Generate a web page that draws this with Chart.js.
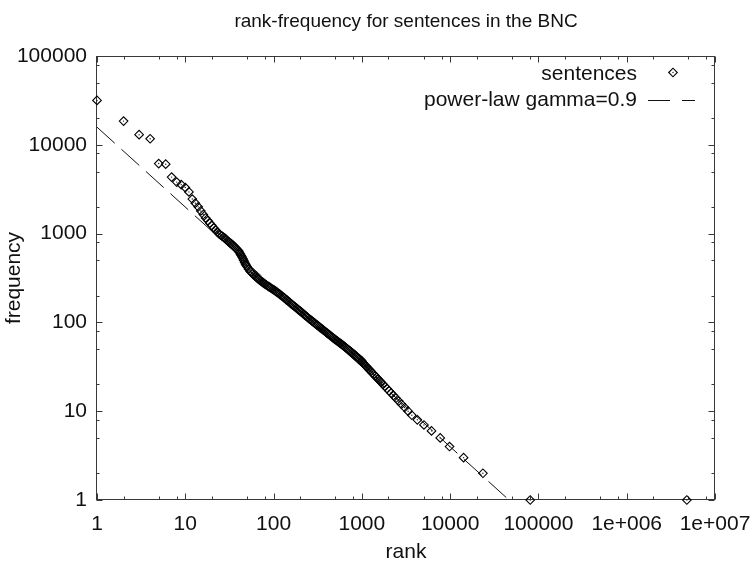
<!DOCTYPE html>
<html>
<head>
<meta charset="utf-8">
<title>rank-frequency for sentences in the BNC</title>
<script src="https://cdn.jsdelivr.net/npm/chart.js@4.4.0/dist/chart.umd.min.js"></script>
<style>
	html, body { margin: 0; padding: 0; background: #fff; }
</style>
</head>
<body>
<canvas id="rankChart" width="753" height="567"></canvas>
<script>
// rank of each sentence type and how often it occurs
// (top ranks one by one, then one point per low frequency value)
var ranks = [
	1, 2, 3, 4, 5, 6, 7, 8, 9, 10, 11, 12, 13, 14, 15, 16, 17, 18, 19, 20,
	21, 22, 23, 24, 25, 26, 27, 28, 29, 30, 31, 32, 33, 34, 35, 36, 37, 38, 39, 40,
	41, 42, 43, 44, 45, 46, 47, 48, 49, 50, 52, 54, 56, 58, 60, 62, 64, 66, 68, 70,
	72, 74, 76, 78, 80, 83, 86, 89, 92, 95, 98, 101, 104, 107, 110, 114, 118, 122, 126, 130,
	134, 138, 142, 146, 151, 156, 161, 166, 171, 176, 182, 188, 194, 200, 206, 212, 219, 226, 233, 240,
	247, 255, 263, 271, 279, 288, 297, 306, 315, 325, 335, 345, 356, 367, 378, 390, 402, 414, 427, 440,
	454, 468, 482, 497, 512, 528, 544, 561, 578, 596, 614, 633, 652, 672, 693, 714, 736, 759, 782, 806,
	831, 856, 882, 909, 937, 966, 995,
	1002, 1029, 1057, 1087, 1119, 1153, 1189, 1228, 1269, 1313, 1360, 1411, 1467, 1527, 1592, 1663, 1741, 1827, 1922, 2028,
	2147, 2282, 2434, 2610, 2814, 3054, 3340, 3680, 4250, 5050, 6150, 7720, 9840, 14200, 23500, 80700, 4800000
];
var freqs = [
	31600, 18500, 13000, 11700, 6150, 6050, 4330, 3800, 3560, 3300, 2950, 2450, 2200, 2000, 1800, 1640, 1500, 1400, 1310, 1230,
	1160, 1100, 1045, 1000, 965, 940, 915, 890, 860, 830, 809, 789, 770, 752, 735, 714, 694, 675, 657, 640,
	615, 590, 567, 545, 520, 498, 475, 455, 440, 425, 400, 380, 365, 352, 340, 331, 322, 313, 305, 298,
	292, 286, 280, 275, 270, 263, 257, 251, 246, 241, 236, 232, 227, 222, 218, 212, 207, 201, 196, 191,
	187, 182, 178, 174, 169, 164, 160, 156, 152, 149, 145, 141, 137, 134, 131, 128, 124, 121, 118, 115,
	112, 109, 107, 104, 102, 99, 97, 94.5, 92.4, 90.1, 88, 86, 83.9, 81.9, 80, 78, 76.2, 74.4, 72.6, 70.9,
	69.1, 67.5, 65.9, 64.3, 62.9, 61.5, 60.2, 58.8, 57.6, 56.3, 55, 53.7, 52.4, 51.1, 49.9, 48.7, 47.6, 46.4, 45.3, 44.2,
	43, 41.9, 40.8, 39.7, 38.8, 37.9, 37,
	36, 35, 34, 33, 32, 31, 30, 29, 28, 27, 26, 25, 24, 23, 22, 21, 20, 19, 18, 17,
	16, 15, 14, 13, 12, 11, 10, 9, 8, 7, 6, 5, 4, 3, 2, 1, 1
];

// power law with gamma = 0.9, a straight line between its end points
var lawRanks = [1, 46400];
var lawFreqs = [15800, 1];

var xTicks = [1, 10, 100, 1000, 10000, 100000, 1000000, 10000000];
var xTickLabels = ["1", "10", "100", "1000", "10000", "100000", "1e+006", "1e+007"];
var yTicks = [1, 10, 100, 1000, 10000, 100000];
var yTickLabels = ["1", "10", "100", "1000", "10000", "100000"];
// minor tick multiples inside each decade
var minorSteps = [2, 5, 8];

var points = ranks.map(function (r, i) { return { x: r, y: freqs[i] }; });
var law = lawRanks.map(function (r, i) { return { x: r, y: lawFreqs[i] }; });

var FONT = "'Liberation Sans', Arial, Helvetica, sans-serif";
var INK = "#111";
var AXIS = "#383838";

Chart.defaults.font.family = FONT;
Chart.defaults.font.size = 21;
Chart.defaults.color = INK;

// box round the plot with inward ticks on all four sides
var frameTicks = {
	id: "frameTicks",
	beforeDatasetsDraw: function (chart) {
		var ctx = chart.ctx, a = chart.chartArea;
		var sx = chart.scales.x, sy = chart.scales.y;
		var L = Math.round(a.left) - 0.5, R = Math.round(a.right) - 0.5;
		var T = Math.round(a.top) + 0.5, B = Math.round(a.bottom) - 0.5;
		ctx.save();
		ctx.strokeStyle = AXIS;
		ctx.lineWidth = 1;
		ctx.strokeRect(L, T, R - L, B - T);
		ctx.beginPath();
		function xMark(v, len) {
			var px = Math.round(sx.getPixelForValue(v)) + 0.5;
			ctx.moveTo(px, B); ctx.lineTo(px, B - len);
			ctx.moveTo(px, T); ctx.lineTo(px, T + len);
		}
		function yMark(v, len) {
			var py = Math.round(sy.getPixelForValue(v)) + 0.5;
			ctx.moveTo(L, py); ctx.lineTo(L + len, py);
			ctx.moveTo(R, py); ctx.lineTo(R - len, py);
		}
		xTicks.forEach(function (v, i) {
			xMark(v, 6);
			if (i < xTicks.length - 1) minorSteps.forEach(function (m) { xMark(v * m, 3); });
		});
		yTicks.forEach(function (v, i) {
			yMark(v, 6);
			if (i < yTicks.length - 1) minorSteps.forEach(function (m) { yMark(v * m, 3); });
		});
		ctx.stroke();
		ctx.restore();
	}
};

// title over the plot area and the key in its top right corner
var titleKey = {
	id: "titleKey",
	afterDraw: function (chart) {
		var ctx = chart.ctx, a = chart.chartArea;
		ctx.save();
		ctx.fillStyle = INK;
		ctx.textBaseline = "middle";
		ctx.font = "19px " + FONT;
		ctx.textAlign = "center";
		ctx.fillText("rank-frequency for sentences in the BNC", (a.left + a.right) / 2, 22);

		ctx.font = "21px " + FONT;
		ctx.textAlign = "right";
		ctx.fillText(chart.data.datasets[0].label, 637, 74);
		ctx.fillText(chart.data.datasets[2].label, 637, 100);

		ctx.strokeStyle = "#000";
		ctx.lineWidth = 1.1;
		ctx.beginPath();
		ctx.moveTo(673 - 4.3, 72.5);
		ctx.lineTo(673, 72.5 - 4.3);
		ctx.lineTo(673 + 4.3, 72.5);
		ctx.lineTo(673, 72.5 + 4.3);
		ctx.closePath();
		ctx.stroke();
		ctx.beginPath();
		ctx.arc(673, 72.5, 0.7, 0, Math.PI * 2);
		ctx.fillStyle = "#222";
		ctx.fill();

		ctx.strokeStyle = INK;
		ctx.lineWidth = 1;
		ctx.setLineDash([22, 12]);
		ctx.beginPath();
		ctx.moveTo(648, 100.5);
		ctx.lineTo(695, 100.5);
		ctx.stroke();
		ctx.restore();
	}
};

var ctx = document.getElementById("rankChart").getContext("2d");
var rankChart = new Chart(ctx, {
	type: "scatter",
	data: {
		datasets: [
			{
				label: "sentences",
				data: points,
				pointStyle: "rectRot",
				pointRadius: 4.3,
				pointBorderWidth: 1.1,
				pointBorderColor: "#000",
				pointBackgroundColor: "rgba(0,0,0,0)",
				clip: false
			},
			{
				// small dot in the middle of each marker
				label: "centres",
				data: points,
				pointStyle: "circle",
				pointRadius: 0.7,
				pointBorderWidth: 0,
				pointBackgroundColor: "#222",
				clip: false
			},
			{
				label: "power-law gamma=0.9",
				data: law,
				showLine: true,
				pointRadius: 0,
				borderColor: INK,
				borderWidth: 1,
				borderDash: [24, 9],
				fill: false
			}
		]
	},
	options: {
		responsive: false,
		animation: false,
		events: [],
		layout: { padding: { top: 56, right: 38, bottom: 0, left: 0 } },
		plugins: {
			legend: { display: false },
			title: { display: false },
			tooltip: { enabled: false }
		},
		scales: {
			x: {
				type: "logarithmic",
				min: 1,
				max: 10000000,
				grid: { display: false, drawTicks: false },
				border: { display: false },
				afterBuildTicks: function (scale) {
					scale.ticks = xTicks.map(function (v) { return { value: v, major: true }; });
				},
				afterFit: function (scale) {
					scale.height = 67;
					scale.paddingLeft = 0;
					scale.paddingRight = 0;
				},
				ticks: {
					autoSkip: false,
					maxRotation: 0,
					padding: 12,
					callback: function (value, index) { return xTickLabels[index]; }
				},
				title: { display: true, text: "rank", padding: { top: 0, bottom: 2 } }
			},
			y: {
				type: "logarithmic",
				min: 1,
				max: 100000,
				grid: { display: false, drawTicks: false },
				border: { display: false },
				afterBuildTicks: function (scale) {
					scale.ticks = yTicks.map(function (v) { return { value: v, major: true }; });
				},
				afterFit: function (scale) {
					scale.width = 97;
					scale.paddingTop = 0;
					scale.paddingBottom = 0;
				},
				ticks: {
					autoSkip: false,
					padding: 10,
					callback: function (value, index) { return yTickLabels[index]; }
				},
				title: { display: true, text: "frequency", padding: { top: 2, bottom: 0 } }
			}
		}
	},
	plugins: [frameTicks, titleKey]
});
</script>
</body>
</html>
